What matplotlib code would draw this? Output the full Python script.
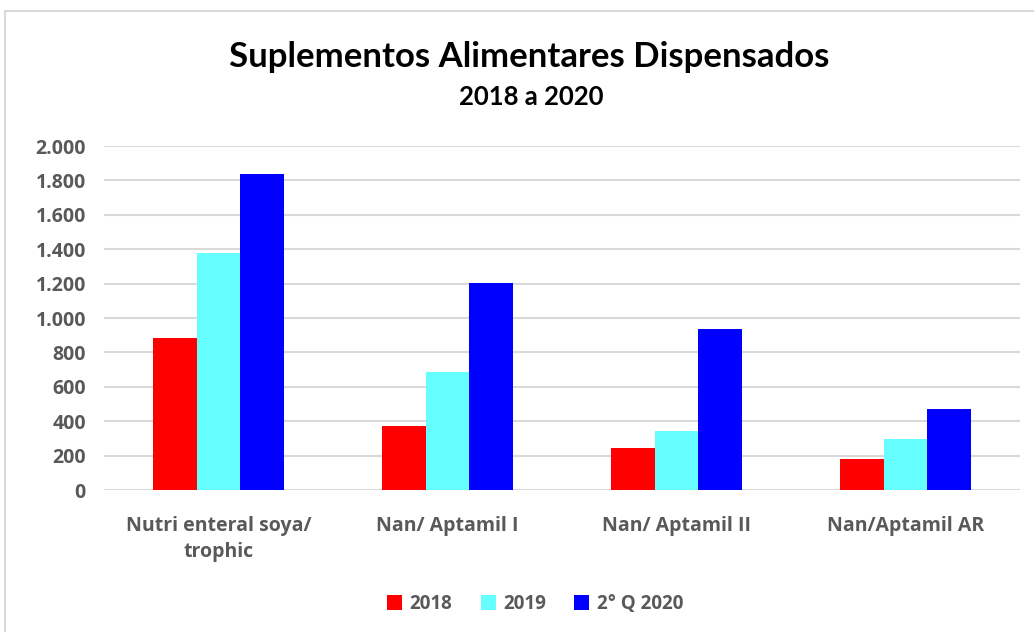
import matplotlib.pyplot as plt
import numpy as np
from matplotlib.patches import Rectangle

categories = ["Nutri enteral soya/\ntrophic", "Nan/ Aptamil I", "Nan/ Aptamil II", "Nan/Aptamil AR"]
series_names = ["2018", "2019", "2° Q 2020"]
values_2018 = [885, 372, 246, 178]
values_2019 = [1376, 684, 341, 296]
values_2020 = [1839, 1205, 936, 469]
colors = ["#FF0000", "#66FFFF", "#0000FF"]
yticks = [0, 200, 400, 600, 800, 1000, 1200, 1400, 1600, 1800, 2000]

plt.rcParams['font.family'] = ['Open Sans', 'DejaVu Sans']
grey = "#595959"

fig = plt.figure(figsize=(10.34, 6.32), dpi=100)
fig.patches.append(Rectangle((5 / 1034, -0.01), 1.02, 1 - 11 / 632 + 0.01,
                             transform=fig.transFigure, fill=False,
                             edgecolor="#d9d9d9", linewidth=1.5))

ax = fig.add_axes([104 / 1034, 1 - 490 / 632, (1020 - 104) / 1034, (490 - 146) / 632])

x = np.arange(len(categories))
width = 0.192
for i, (vals, name) in enumerate(zip([values_2018, values_2019, values_2020], series_names)):
    ax.bar(x + (i - 1) * width, vals, width, color=colors[i], label=name, zorder=3)

ax.set_xlim(-0.5, len(categories) - 0.5)
ax.set_ylim(0, 2000)
ax.set_yticks(yticks)
ax.set_yticklabels([f"{v:,}".replace(",", ".") for v in yticks],
                   fontsize=14, fontweight="bold", color=grey)
ax.set_xticks(x)
ax.set_xticklabels(categories, fontsize=14, fontweight="bold", color=grey, linespacing=1.35)
ax.tick_params(axis="both", length=0, pad=13)
ax.tick_params(axis="x", pad=19)
ax.grid(axis="y", color="#d9d9d9", linewidth=1.5, zorder=0)
for s in ax.spines.values():
    s.set_visible(False)

fig.text(529 / 1034, 1 - 57 / 632, "Suplementos Alimentares Dispensados",
         ha="center", va="center", fontsize=25, fontweight="bold", color="black",
         family=["Lato", "DejaVu Sans"])
fig.text(531 / 1034, 1 - 97 / 632, "2018 a 2020",
         ha="center", va="center", fontsize=18.5, fontweight="bold", color="black",
         family=["Lato", "DejaVu Sans"])

fig.legend(loc="center", bbox_to_anchor=(535 / 1034, 1 - 604 / 632), ncol=3,
           frameon=False, prop={"size": 13.5, "weight": "bold"}, labelcolor=grey,
           handlelength=0.8, handleheight=0.8, handletextpad=0.4, columnspacing=1.5)

fig.savefig("out.png", dpi=100)
